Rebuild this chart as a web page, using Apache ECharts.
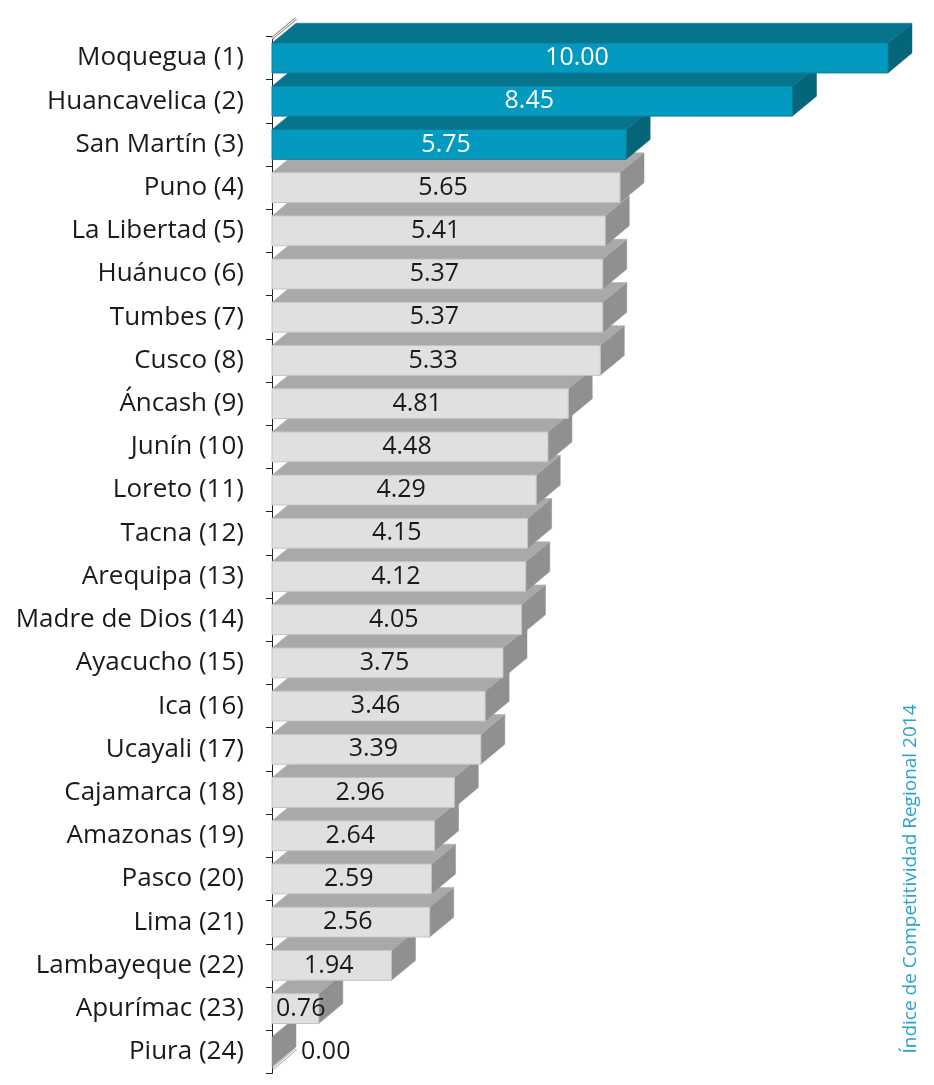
<!DOCTYPE html>
<html>
<head>
<meta charset="utf-8">
<script src="https://cdn.jsdelivr.net/npm/echarts@6/dist/echarts.min.js"></script>
<style>
html,body{margin:0;padding:0;background:#fff;}
#chart{width:934px;height:1085px;}
</style>
</head>
<body>
<div id="chart"></div>
<script>
const categories = ['Moquegua (1)','Huancavelica (2)','San Martín (3)','Puno (4)','La Libertad (5)','Huánuco (6)','Tumbes (7)','Cusco (8)','Áncash (9)','Junín (10)','Loreto (11)','Tacna (12)','Arequipa (13)','Madre de Dios (14)','Ayacucho (15)','Ica (16)','Ucayali (17)','Cajamarca (18)','Amazonas (19)','Pasco (20)','Lima (21)','Lambayeque (22)','Apurímac (23)','Piura (24)'];
const values = [10.00, 8.45, 5.75, 5.65, 5.41, 5.37, 5.37, 5.33, 4.81, 4.48, 4.29, 4.15, 4.12, 4.05, 3.75, 3.46, 3.39, 2.96, 2.64, 2.59, 2.56, 1.94, 0.76, 0.00];
const highlightCount = 3;
const sideTitle = 'Índice de Competitividad Regional 2014';

const teal = {front:'#0499BF', top:'#06748D', side:'#066679', text:'#ffffff', stroke:'#04809F'};
const gray = {front:'#E0E0E0', top:'#A9A9A9', side:'#909090', text:'#1a1a1a', stroke:'#C4C4C4'};
const font = '25px "Open Sans", sans-serif';

const chart = echarts.init(document.getElementById('chart'));

function renderItem(params, api) {
  const idx = params.dataIndex;
  const v = api.value(1);
  const p0 = api.coord([0, idx]);
  const p1 = api.coord([v, idx]);
  const band = api.size([0, 1])[1];
  const h = band * 0.69;
  const dx = band * 0.555;
  const dy = band * 0.46;
  const c = idx < highlightCount ? teal : gray;
  const x0 = p0[0], x1 = p1[0];
  const y0 = p0[1] - h / 2, y1 = y0 + h;
  const z = 1000 - idx * 3;
  const children = [];
  children.push({type:'polygon', z2: z, shape:{points:[[x1,y0],[x1+dx,y0-dy],[x1+dx,y1-dy],[x1,y1]]}, style:{fill:c.side, stroke:c.side, lineWidth:0.5}});
  if (x1 > x0) {
    children.push({type:'polygon', z2: z, shape:{points:[[x0,y0],[x0+dx,y0-dy],[x1+dx,y0-dy],[x1,y0]]}, style:{fill:c.top, stroke:c.top, lineWidth:0.5}});
    children.push({type:'rect', z2: z + 1, shape:{x:x0, y:y0, width:x1-x0, height:h}, style:{fill:c.front, stroke:c.stroke, lineWidth:1}});
  } else {
    children.push({type:'line', z2: z + 1, shape:{x1:x0+1, y1:y1+2, x2:x0+dx, y2:y1-dy+2}, style:{stroke:'#bbbbbb', lineWidth:3}});
    children.push({type:'line', z2: z + 2, shape:{x1:x0+1, y1:y1+2, x2:x0+dx, y2:y1-dy+2}, style:{stroke:'#ffffff', lineWidth:1}});
  }
  const label = v.toFixed(2);
  if (x1 - x0 > 70) {
    children.push({type:'text', z2: z + 2, style:{text:label, x:(x0+x1)/2 - 3, y:p0[1], align:'center', verticalAlign:'middle', fill:c.text, font}});
  } else if (x1 > x0) {
    children.push({type:'text', z2: z + 2, style:{text:label, x:x0+4, y:p0[1], align:'left', verticalAlign:'middle', fill:c.text, font}});
  } else {
    children.push({type:'text', z2: z + 2, style:{text:label, x:x0+dx+5, y:p0[1], align:'left', verticalAlign:'middle', fill:c.text, font}});
  }
  if (idx === 0) {
    const top = p0[1] - band / 2;
    children.push({type:'line', z2: 2000, shape:{x1:x0, y1:top+2, x2:x0+dx, y2:top-dy+2}, style:{stroke:'#9a9a9a', lineWidth:3}});
    children.push({type:'line', z2: 2001, shape:{x1:x0, y1:top+2, x2:x0+dx, y2:top-dy+2}, style:{stroke:'#ffffff', lineWidth:1}});
  }
  return {type:'group', children};
}

chart.setOption({
  animation: false,
  grid: {left: 272, top: 36.4, width: 616, height: 1037},
  xAxis: {type:'value', min:0, max:10, show:false},
  yAxis: {
    type:'category', data: categories, inverse: true,
    axisLine: {show:true, lineStyle:{color:'#222', width:1}},
    axisTick: {show:true, length:6, lineStyle:{color:'#222'}},
    axisLabel: {fontSize:26, color:'#1a1a1a', margin:28, fontFamily:'"Open Sans", sans-serif'}
  },
  series: [{
    type:'custom',
    renderItem,
    encode: {x:1, y:0},
    data: values.map((v, i) => [i, v])
  }],
  graphic: [{
    type:'text', x: 911, y: 879, rotation: Math.PI/2,
    style:{text: sideTitle, align:'center', verticalAlign:'middle', fill:'#2AA3CC', font:'19px "Open Sans", sans-serif'}
  }]
});
</script>
</body>
</html>
